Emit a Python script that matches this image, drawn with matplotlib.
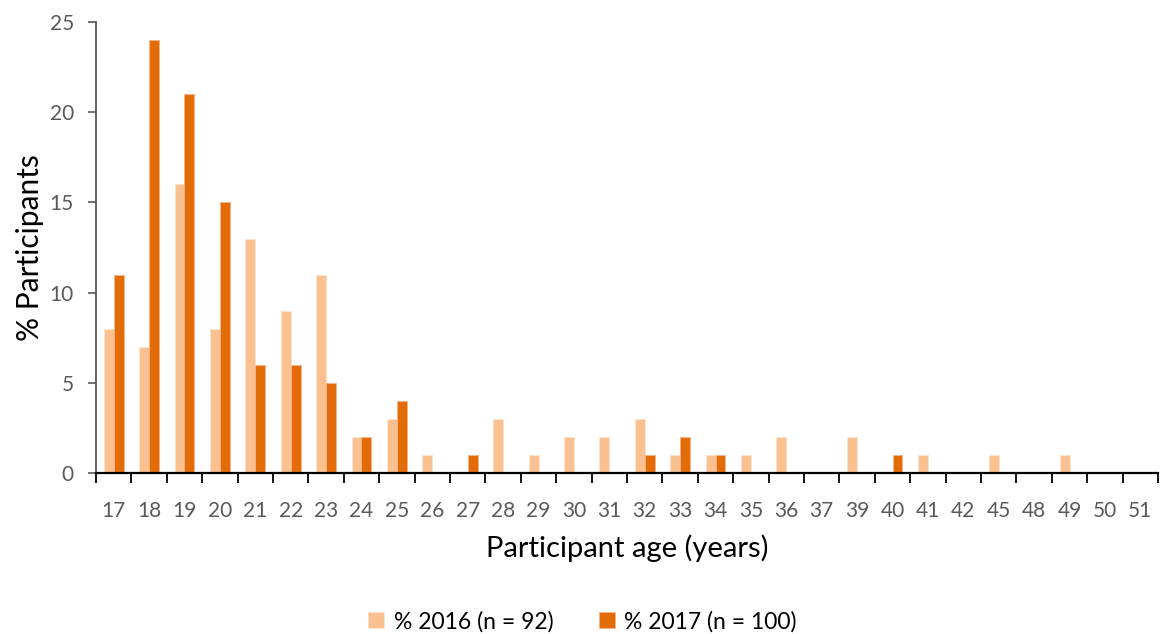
import matplotlib
matplotlib.use('Agg')
import matplotlib.pyplot as plt
import numpy as np

# ages (categories) and % participants per year
ages = ['17', '18', '19', '20', '21', '22', '23', '24', '25', '26', '27', '28', '29', '30',
        '31', '32', '33', '34', '35', '36', '37', '39', '40', '41', '42', '45', '48', '49',
        '50', '51']
pct_2016 = [8, 7, 16, 8, 13, 9, 11, 2, 3, 1, 0, 3, 1, 2, 2, 3, 1, 1, 1, 2, 0, 2, 0, 1, 0,
            1, 0, 1, 0, 0]
pct_2017 = [11, 24, 21, 15, 6, 6, 5, 2, 4, 0, 1, 0, 0, 0, 0, 1, 2, 1, 0, 0, 0, 0, 1, 0, 0,
            0, 0, 0, 0, 0]
label_2016 = '% 2016 (n = 92)'
label_2017 = '% 2017 (n = 100)'

plt.rcParams['font.family'] = ['Lato', 'DejaVu Sans']

fig = plt.figure(figsize=(11.65, 6.34), dpi=100)
ax = fig.add_axes([0.0824, 0.254, 0.9116, 0.711])

x = np.arange(len(ages))
w = 0.28
ax.bar(x - w / 2, pct_2016, w, color='#FAC090', edgecolor='#FDE3CC', lw=0.6, label=label_2016)
ax.bar(x + w / 2, pct_2017, w, color='#E36C09', edgecolor='#F3B48A', lw=0.6, label=label_2017)

ax.set_xlim(-0.5, len(ages) - 0.5)
ax.set_ylim(0, 25)
ax.set_yticks([0, 5, 10, 15, 20, 25])

# labels centred, tick marks at category boundaries
ax.set_xticks(x)
ax.set_xticklabels(ages)
ax.set_xticks(np.arange(-0.5, len(ages)), minor=True)
ax.tick_params(axis='x', which='major', length=0, pad=20, labelsize=15, labelcolor='#595959')
ax.tick_params(axis='x', which='minor', length=7, width=1.3, color='black', direction='out')
ax.tick_params(axis='y', length=6, width=1.2, color='#595959', labelsize=15,
               labelcolor='#595959', pad=10)

for s in ['top', 'right']:
    ax.spines[s].set_visible(False)
ax.spines['left'].set_color('#595959')
ax.spines['left'].set_linewidth(1.3)
ax.spines['bottom'].set_color('black')
ax.spines['bottom'].set_linewidth(1.6)

ax.set_xlabel('Participant age (years)', fontsize=21, labelpad=10)
ax.set_ylabel('% Participants', fontsize=21.5, labelpad=4)

fig.legend(loc='lower center', bbox_to_anchor=(0.5, -0.03), ncol=2, frameon=False,
           fontsize=16.5, handlelength=0.7, handleheight=0.7, handletextpad=0.4,
           columnspacing=2.0)

fig.savefig('out.png', dpi=100)
